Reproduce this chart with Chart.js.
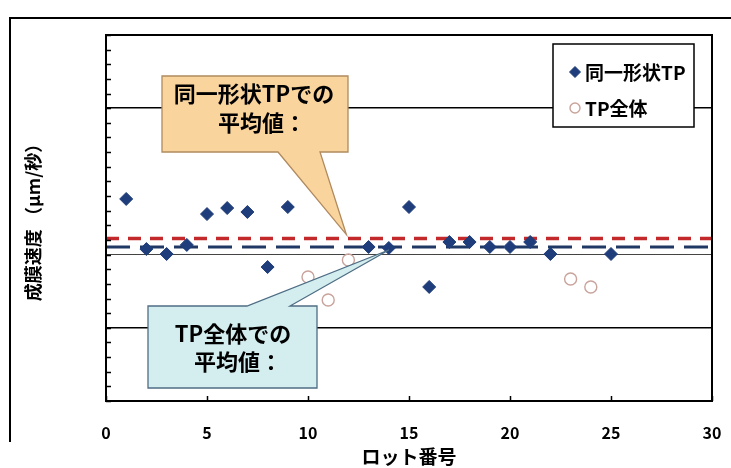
<!DOCTYPE html>
<html>
<head>
<meta charset="utf-8">
<script src="https://cdn.jsdelivr.net/npm/chart.js@4.4.0/dist/chart.umd.min.js"></script>
<style>
  html, body { margin: 0; padding: 0; background: #fff; }
</style>
</head>
<body>
<canvas id="chart" width="731" height="468"></canvas>
<script>
// 同一形状TP（ロット番号と成膜速度, 目盛は相対値）
const sameShapeLots = [1, 2, 3, 4, 5, 6, 7, 8, 9, 13, 14, 15, 16, 17, 18, 19, 20, 21, 22, 25];
const sameShapeRates = [13.8, 10.38, 10.04, 10.66, 12.77, 13.18, 12.91, 9.15, 13.25, 10.52, 10.45, 13.25, 7.79, 10.86, 10.86, 10.52, 10.52, 10.86, 10.04, 10.04];
// 他形状のTP（TP全体 = 同一形状 + これら）
const otherLots = [10, 11, 12, 23, 24];
const otherRates = [8.47, 6.9, 9.63, 8.33, 7.79];
const xTicks = [0, 5, 10, 15, 20, 25, 30];

const FONT = "'Noto Sans CJK JP', 'Noto Sans', sans-serif";
const NAVY = '#1f3d7a';
const PINK = '#c9a39b';

const mean = arr => arr.reduce((a, b) => a + b, 0) / arr.length;
const meanSame = mean(sameShapeRates);
const meanAll = mean(sameShapeRates.concat(otherRates));

const toPoints = (xs, ys) => xs.map((x, i) => ({ x: x, y: ys[i] }));

const decor = {
    id: 'decor',
    beforeDraw(chart) {
        const ctx = chart.ctx;
        ctx.save();
        ctx.strokeStyle = '#000';
        ctx.lineWidth = 2;
        ctx.beginPath();
        ctx.moveTo(10, 442);
        ctx.lineTo(10, 18);
        ctx.lineTo(731, 18);
        ctx.stroke();
        ctx.restore();
    },
    afterDatasetsDraw(chart) {
        const ctx = chart.ctx;
        const xs = chart.scales.x, ys = chart.scales.y;
        const a = chart.chartArea;
        ctx.save();

        // 吹き出し（同一形状TP）
        let tx = xs.getPixelForValue(11.9), ty = ys.getPixelForValue(meanSame) - 4;
        ctx.beginPath();
        ctx.moveTo(162, 76); ctx.lineTo(348, 76); ctx.lineTo(348, 152);
        ctx.lineTo(320, 152); ctx.lineTo(tx, ty); ctx.lineTo(278, 152);
        ctx.lineTo(162, 152); ctx.closePath();
        ctx.fillStyle = '#fad49d';
        ctx.fill();
        ctx.strokeStyle = '#b08a5e';
        ctx.lineWidth = 1.3;
        ctx.stroke();

        // 吹き出し（TP全体）
        tx = xs.getPixelForValue(14); ty = ys.getPixelForValue(meanAll) + 3;
        ctx.beginPath();
        ctx.moveTo(148, 306); ctx.lineTo(247, 306); ctx.lineTo(tx, ty);
        ctx.lineTo(290, 306); ctx.lineTo(317, 306); ctx.lineTo(317, 388);
        ctx.lineTo(148, 388); ctx.closePath();
        ctx.fillStyle = '#d4eef0';
        ctx.fill();
        ctx.strokeStyle = '#4e6d84';
        ctx.lineWidth = 1.3;
        ctx.stroke();

        ctx.fillStyle = '#000';
        ctx.textAlign = 'center';
        ctx.textBaseline = 'middle';
        ctx.font = 'bold 22px ' + FONT;
        ctx.fillText('同一形状TPでの', 254, 94);
        ctx.fillText('平均値：', 262, 123);
        ctx.fillText('TP全体での', 233, 334);
        ctx.fillText('平均値：', 238, 362);

        // 凡例
        ctx.fillStyle = '#fff';
        ctx.fillRect(553, 44, 141, 83);
        ctx.strokeStyle = '#000';
        ctx.lineWidth = 1.5;
        ctx.strokeRect(553, 44, 141, 83);
        const items = [[0, 72], [1, 108]];
        items.forEach(([i, y]) => {
            const ds = chart.data.datasets[i];
            ctx.fillStyle = ds.backgroundColor;
            ctx.strokeStyle = ds.borderColor;
            ctx.lineWidth = ds.borderWidth;
            Chart.helpers.drawPoint(ctx, { pointStyle: ds.pointStyle, radius: ds.pointRadius - 1, borderWidth: ds.borderWidth }, 575, y);
            ctx.fillStyle = '#000';
            ctx.textAlign = 'left';
            ctx.font = 'bold 19px ' + FONT;
            ctx.fillText(ds.label, 585, y + 1);
        });

        // 枠と内向き目盛
        ctx.strokeStyle = '#000';
        ctx.lineWidth = 1.5;
        ctx.beginPath();
        ys.ticks.forEach(t => {
            const y = Math.round(ys.getPixelForValue(t.value)) + 0.5;
            ctx.moveTo(a.left, y); ctx.lineTo(a.left + 5, y);
        });
        xs.ticks.forEach(t => {
            const x = Math.round(xs.getPixelForValue(t.value)) + 0.5;
            ctx.moveTo(x, a.bottom); ctx.lineTo(x, a.bottom - 5);
        });
        ctx.stroke();
        ctx.lineWidth = 2;
        ctx.strokeRect(a.left, a.top, a.right - a.left, a.bottom - a.top);
        ctx.restore();
    }
};

new Chart(document.getElementById('chart'), {
    type: 'scatter',
    data: {
        datasets: [{
            label: '同一形状TP',
            data: toPoints(sameShapeLots, sameShapeRates),
            pointStyle: 'rectRot',
            pointRadius: 6.5,
            backgroundColor: NAVY,
            borderColor: NAVY,
            borderWidth: 1,
            order: 0
        }, {
            label: 'TP全体',
            data: toPoints(otherLots, otherRates),
            pointStyle: 'circle',
            pointRadius: 6,
            backgroundColor: 'rgba(255,255,255,0)',
            borderColor: PINK,
            borderWidth: 1.4,
            order: 1
        }, {
            label: '同一形状TPでの平均値',
            data: [{ x: 0, y: meanSame }, { x: 30, y: meanSame }],
            showLine: true,
            pointRadius: 0,
            borderColor: '#c3282b',
            borderWidth: 3.5,
            borderDash: [13, 9],
            order: 3
        }, {
            label: 'TP全体での平均値',
            data: [{ x: 0, y: meanAll }, { x: 30, y: meanAll }],
            showLine: true,
            pointRadius: 0,
            borderColor: '#1f3864',
            borderWidth: 3,
            borderDash: [24, 10],
            order: 2
        }]
    },
    options: {
        responsive: false,
        animation: false,
        devicePixelRatio: 1,
        layout: { padding: { left: 0, top: 35, right: 19, bottom: 0 } },
        plugins: { legend: { display: false }, tooltip: { enabled: false } },
        scales: {
            x: {
                type: 'linear',
                min: 0,
                max: 30,
                afterFit: s => { s.height = 67; s.paddingLeft = 0; s.paddingRight = 0; },
                afterBuildTicks: s => { s.ticks = xTicks.map(v => ({ value: v })); },
                grid: { display: false, drawTicks: false },
                border: { display: false },
                ticks: {
                    padding: 22,
                    color: '#000',
                    font: { family: FONT, size: 16, weight: 'bold' }
                },
                title: {
                    display: true,
                    text: 'ロット番号',
                    color: '#000',
                    padding: { top: 0, bottom: 0 },
                    font: { family: FONT, size: 19, weight: 'bold' }
                }
            },
            y: {
                min: 0,
                max: 25,
                afterFit: s => { s.width = 106; },
                ticks: { stepSize: 1, display: false },
                grid: {
                    drawTicks: false,
                    color: c => c.tick.value === 10 ? '#444' : (c.tick.value === 5 || c.tick.value === 20 ? '#000' : 'rgba(0,0,0,0)'),
                    lineWidth: c => c.tick.value === 10 ? 1 : 1.6
                },
                border: { display: false },
                title: {
                    display: true,
                    text: '成膜速度 （μm/秒）',
                    color: '#000',
                    padding: { top: 22, bottom: 0 },
                    font: { family: FONT, size: 18, weight: 'bold' }
                }
            }
        }
    },
    plugins: [decor]
});
</script>
</body>
</html>
